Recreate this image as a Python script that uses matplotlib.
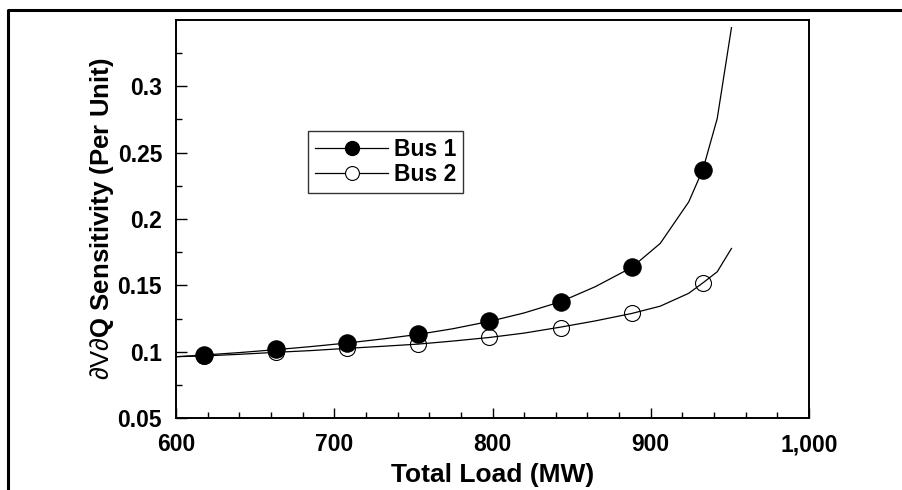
import matplotlib
matplotlib.use("Agg")
import matplotlib.pyplot as plt
from matplotlib.lines import Line2D
from matplotlib.ticker import MultipleLocator, FuncFormatter, FixedLocator

plt.rcParams['font.family'] = ['Liberation Sans', 'DejaVu Sans']
plt.rcParams['mathtext.fontset'] = 'custom'
plt.rcParams['mathtext.rm'] = 'Liberation Sans'
plt.rcParams['mathtext.it'] = 'Liberation Sans:italic'
plt.rcParams['mathtext.bf'] = 'Liberation Sans:bold'

# Data
load_points = [618, 663, 708, 753, 798, 843, 888, 933]
bus1_points = [0.0975, 0.1017, 0.1065, 0.1130, 0.1228, 0.1376, 0.1635, 0.2370]
bus2_points = [0.0965, 0.0995, 0.1025, 0.1057, 0.1107, 0.1180, 0.1288, 0.1519]

curve_load = [600, 618, 640, 663, 685, 708, 730, 753, 775, 798, 820, 843, 865, 888, 906, 924, 933, 942, 951]
bus1_curve = [0.0962, 0.0975, 0.0993, 0.1015, 0.1038, 0.1065, 0.1095, 0.1130, 0.1173, 0.1228, 0.1292,
              0.1376, 0.1490, 0.1635, 0.1816, 0.2129, 0.2375, 0.2757, 0.3442]
bus2_curve = [0.0962, 0.0968, 0.0980, 0.0995, 0.1008, 0.1025, 0.1040, 0.1057, 0.1080, 0.1107, 0.1140,
              0.1185, 0.1232, 0.1288, 0.1343, 0.1440, 0.1519, 0.1602, 0.1778]

series_labels = ["Bus 1", "Bus 2"]
x_label = "Total Load (MW)"
y_label = r"$\mathrm{\partial V\partial}$Q Sensitivity (Per Unit)"
y_major = [0.05, 0.1, 0.15, 0.2, 0.25, 0.3]

fig = plt.figure(figsize=(9.02, 4.90), dpi=100)
ax = fig.add_axes([176/902, 1-418/490, (809-176)/902, (418-20)/490])

lw = 0.9
ax.plot(curve_load, bus1_curve, color='black', lw=lw)
ax.plot(curve_load, bus2_curve, color='black', lw=lw)
ax.plot(load_points, bus1_points, ls='none', marker='o', ms=12.5, mfc='black', mec='black', mew=0.8, zorder=3)
ax.plot(load_points, bus2_points, ls='none', marker='o', ms=11.5, mfc='none', mec='black', mew=0.8, zorder=3)

ax.set_xlim(600, 1000)
ax.set_ylim(0.05, 0.35)
ax.xaxis.set_major_locator(MultipleLocator(100))
ax.xaxis.set_minor_locator(MultipleLocator(20))
ax.yaxis.set_major_locator(FixedLocator(y_major))
ax.yaxis.set_minor_locator(FixedLocator([0.075, 0.125, 0.175, 0.225, 0.275, 0.325]))
ax.xaxis.set_major_formatter(FuncFormatter(lambda v, p: f"{v:,.0f}"))
ax.yaxis.set_major_formatter(FuncFormatter(lambda v, p: f"{v:g}"))

ax.tick_params(which='both', direction='in', top=False, right=False, width=1.0)
ax.tick_params(axis='x', which='major', length=7, pad=11, labelsize=16.5)
ax.tick_params(axis='x', which='minor', length=4)
ax.tick_params(axis='y', which='major', length=8, pad=10, labelsize=16.5)
ax.tick_params(axis='y', which='minor', length=4.5)
for lab in ax.get_xticklabels() + ax.get_yticklabels():
    lab.set_fontweight('bold')
for s in ax.spines.values():
    s.set_linewidth(1.4)

ax.set_xlabel(x_label, fontsize=19, fontweight='bold', labelpad=5)
ax.set_ylabel(y_label, fontsize=18.5, fontweight='bold', labelpad=1)

handles = [
    Line2D([], [], color='black', lw=lw, marker='o', ms=10, mfc='black', mec='black'),
    Line2D([], [], color='black', lw=lw, marker='o', ms=10, mfc='white', mec='black', mew=0.8),
]
leg = ax.legend(handles, series_labels, loc='upper left', bbox_to_anchor=(0.2085, 0.721),
                borderaxespad=0, frameon=True, fancybox=False, edgecolor='black',
                prop={'weight': 'bold', 'size': 16.5}, handlelength=3.2, handletextpad=0.25,
                labelspacing=0.1, borderpad=0.3)
leg.get_frame().set_linewidth(1.0)

# outer frame
fig.add_artist(Line2D([8/902, 8/902, 1.01], [-0.01, 1-10/490, 1-10/490],
                      transform=fig.transFigure, color='black', lw=2.2, clip_on=False))

fig.savefig("out.png", dpi=100)
